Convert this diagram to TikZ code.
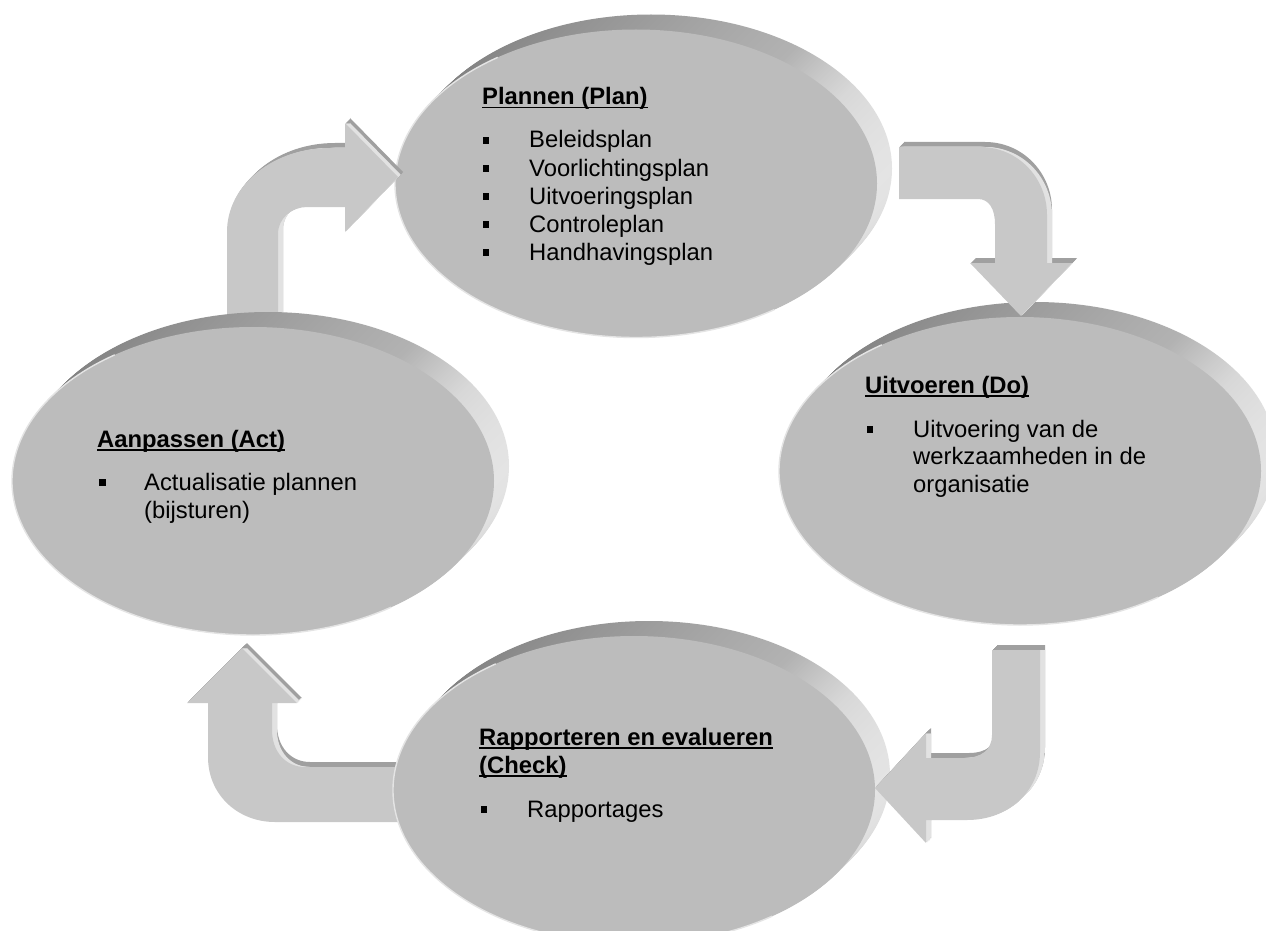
\documentclass[tikz,border=0pt]{standalone}
\usepackage{fontspec}
\setmainfont{Liberation Sans}
\definecolor{ellface}{HTML}{BCBCBC}
\definecolor{ellrimc}{HTML}{E4E4E4}
\definecolor{extA}{HTML}{7C7C7C}
\definecolor{extB}{HTML}{9C9C9C}
\definecolor{extC}{HTML}{B2B2B2}
\definecolor{extD}{HTML}{D8D8D8}
\definecolor{extE}{HTML}{E4E4E4}
\definecolor{arrface}{HTML}{C8C8C8}
\definecolor{arrtop}{HTML}{A0A0A0}
\definecolor{arrside}{HTML}{E2E2E2}
\pgfdeclarehorizontalshading{pdcaext}{100bp}{color(0bp)=(extA); color(25bp)=(extA); color(50bp)=(extB); color(65bp)=(extC); color(71bp)=(extD); color(75bp)=(extE); color(100bp)=(extE)}
% block arrow outlines, shifted by (#1,#2) pixels
\newcommand\pathA[2]{(227+#1,330+#2) -- (227+#1,232+#2) .. controls (227+#1,185+#2) and (273+#1,148+#2) .. (330+#1,148+#2) -- (345+#1,148+#2) -- (345+#1,123+#2) -- (398+#1,177+#2) -- (345+#1,232+#2) -- (345+#1,207+#2) -- (307+#1,207+#2) .. controls (292+#1,207+#2) and (278+#1,218+#2) .. (278+#1,234+#2) -- (278+#1,330+#2) -- cycle}
\newcommand\pathB[2]{(899+#1,147+#2) -- (980+#1,147+#2) .. controls (1018+#1,147+#2) and (1047+#1,178+#2) .. (1047+#1,215+#2) -- (1047+#1,263+#2) -- (1072+#1,263+#2) -- (1021+#1,316+#2) -- (970+#1,263+#2) -- (995+#1,263+#2) -- (995+#1,224+#2) .. controls (995+#1,209+#2) and (989+#1,199+#2) .. (978+#1,199+#2) -- (899+#1,199+#2) -- cycle}
\newcommand\pathC[2]{(992+#1,650+#2) -- (1040+#1,650+#2) -- (1040+#1,752+#2) .. controls (1040+#1,792+#2) and (1008+#1,820+#2) .. (967+#1,820+#2) -- (926+#1,820+#2) -- (926+#1,843+#2) -- (875+#1,788+#2) -- (926+#1,733+#2) -- (926+#1,758+#2) -- (964+#1,758+#2) .. controls (981+#1,758+#2) and (992+#1,750+#2) .. (992+#1,735+#2) -- cycle}
\newcommand\pathD[2]{(412+#1,767+#2) -- (305+#1,767+#2) .. controls (286+#1,767+#2) and (272+#1,752+#2) .. (272+#1,730+#2) -- (272+#1,703+#2) -- (297+#1,703+#2) -- (242+#1,648+#2) -- (187+#1,703+#2) -- (208+#1,703+#2) -- (208+#1,757+#2) .. controls (208+#1,795+#2) and (238+#1,822+#2) .. (275+#1,822+#2) -- (412+#1,822+#2) -- cycle}
\newcommand\pdcaArrow[1]{%
  \foreach \i in {5,4,...,1}{\fill[arrtop] #1{\i}{-\i};}
  \begin{scope}
    \clip #1{1}{-1} #1{2}{-2} #1{3}{-3} #1{4}{-4} #1{5}{-5};
    \foreach \i in {5,4,...,1}{\fill[arrside] #1{\i}{0};}
  \end{scope}
  \fill[arrface] #1{0}{0};
}
\newcommand\pdcaEll[3]{%
  \foreach \i in {15,14,...,1}{\shade[shading=pdcaext] (#2+\i,#3-\i) ellipse [x radius=241pt, y radius=154pt];}
  \fill[ellface] (#2,#3) ellipse [x radius=241pt, y radius=154pt];
  \draw[ellrimc, line width=1.4pt] ([shift={(125:241pt and 154pt)}]#2,#3) arc [start angle=125, end angle=305, x radius=241pt, y radius=154pt];
  \coordinate (#1) at (#2,#3);
}
\begin{document}
\begin{tikzpicture}[x=1pt,y=-1pt,
  titletext/.style={anchor=base west, inner sep=0pt, font=\fontsize{23.8}{28}\selectfont\bfseries},
  itemtext/.style={anchor=base west, inner sep=0pt, font=\fontsize{23.8}{28}\selectfont},
  sqbullet/.style={rectangle, fill=black, inner sep=0pt, minimum size=6.5pt},
  uline/.style={line width=1.8pt}]
\useasboundingbox (0,0) rectangle (1266,931);
\fill[white] (0,0) rectangle (1266,931);
% ellipses behind, arrows interleaved
\pdcaEll{plan}{636}{183.5}
\pdcaEll{do}{1020}{471}
\pdcaArrow{\pathA}
\pdcaArrow{\pathD}
\pdcaEll{act}{253}{481}
\pdcaEll{check}{634}{790}
\pdcaArrow{\pathB}
\pdcaArrow{\pathC}
% Plan text
\node[titletext] (plT) at (482,105) {Plannen (Plan)};
\draw[uline] ([yshift=-2.6pt]plT.base west) -- ([yshift=-2.6pt]plT.base east);
\node[sqbullet] (plb1) at (486,140.5) {};
\node[itemtext] (pl1) at (529,148) {Beleidsplan};
\node[sqbullet] (plb2) at (486,168.5) {};
\node[itemtext] (pl2) at (529,176) {Voorlichtingsplan};
\node[sqbullet] (plb3) at (486,196.5) {};
\node[itemtext] (pl3) at (529,204) {Uitvoeringsplan};
\node[sqbullet] (plb4) at (486,224.5) {};
\node[itemtext] (pl4) at (529,232) {Controleplan};
\node[sqbullet] (plb5) at (486,252.5) {};
\node[itemtext] (pl5) at (529,260) {Handhavingsplan};
% Do text
\node[titletext] (doT) at (865,393) {Uitvoeren (Do)};
\draw[uline] ([yshift=-2.6pt]doT.base west) -- ([yshift=-2.6pt]doT.base east);
\node[sqbullet] (dob1) at (870,429.5) {};
\node[itemtext] (do1) at (913,437) {Uitvoering van de};
\node[itemtext] (do2) at (913,464.5) {werkzaamheden in de};
\node[itemtext] (do3) at (913,492) {organisatie};
% Check text
\node[titletext] (chT1) at (479,745) {Rapporteren en evalueren};
\draw[uline] ([yshift=-2.6pt]chT1.base west) -- ([yshift=-2.6pt]chT1.base east);
\node[titletext] (chT2) at (479,773) {(Check)};
\draw[uline] ([yshift=-2.6pt]chT2.base west) -- ([yshift=-2.6pt]chT2.base east);
\node[sqbullet] (chb1) at (484,809.5) {};
\node[itemtext] (ch1) at (527,817) {Rapportages};
% Act text
\node[titletext] (acT) at (97,447) {Aanpassen (Act)};
\draw[uline] ([yshift=-2.6pt]acT.base west) -- ([yshift=-2.6pt]acT.base east);
\node[sqbullet] (acb1) at (102.5,482.5) {};
\node[itemtext] (ac1) at (144,490) {Actualisatie plannen};
\node[itemtext] (ac2) at (144,518) {(bijsturen)};
\end{tikzpicture}
\end{document}
